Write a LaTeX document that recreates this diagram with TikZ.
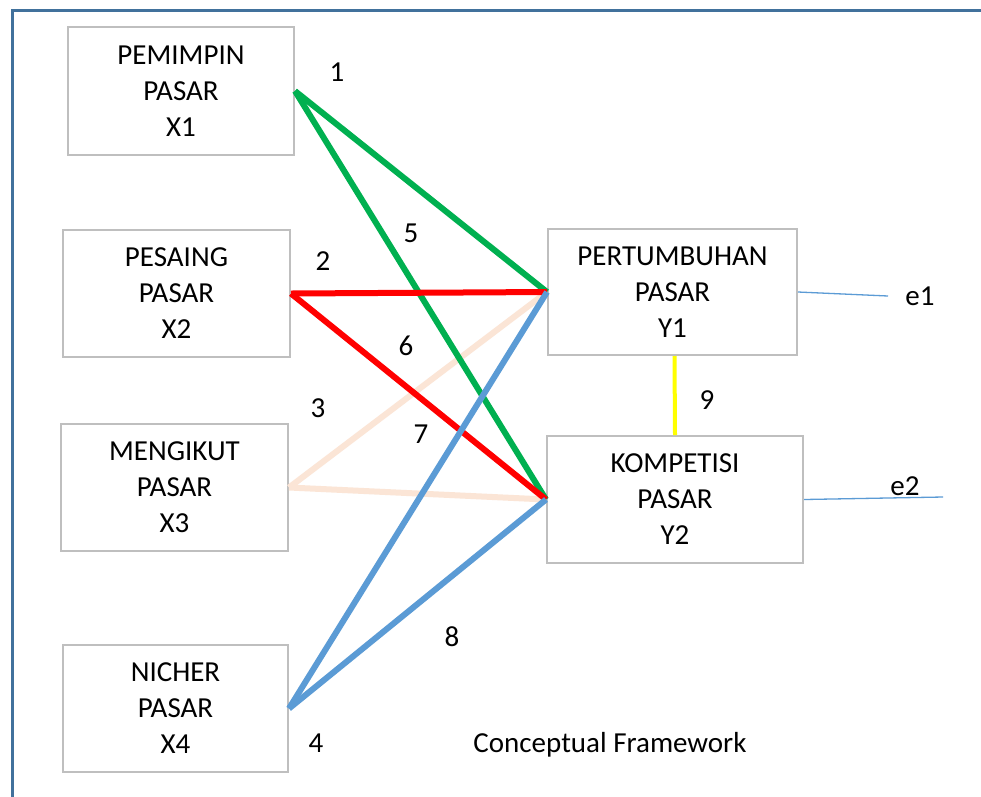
\documentclass[tikz,border=0pt]{standalone}
\usepackage{fontspec}
\setmainfont{Carlito}
\definecolor{frameblue}{HTML}{41719C}
\definecolor{boxgray}{HTML}{BFBFBF}
\definecolor{lgreen}{HTML}{00B050}
\definecolor{lred}{HTML}{FF0000}
\definecolor{lpeach}{HTML}{FBE5D6}
\definecolor{lblue}{HTML}{5B9BD5}
\definecolor{lyellow}{HTML}{FFFF00}
\begin{document}
\begin{tikzpicture}[x=1pt,y=-1pt,
  varbox/.style={draw=boxgray,line width=2pt,rectangle,inner sep=0pt,align=center,
    font=\fontsize{29}{36}\selectfont},
  numlab/.style={inner sep=0pt,font=\fontsize{29}{32}\selectfont},
  link/.style={line width=6pt},
  errline/.style={draw=lblue,line width=1.3pt}]
\useasboundingbox (0,0) rectangle (981,796);
\fill[white] (0,0) rectangle (981,796);
\draw[frameblue,line width=3pt] (12,800) -- (12,10) -- (985,10);
% boxes
\node[varbox,minimum width=226pt,minimum height=128pt] (x1) at (181,91) {PEMIMPIN\\PASAR\\X1};
\node[varbox,minimum width=227pt,minimum height=127pt] (x2) at (176.5,293.5) {PESAING\\PASAR\\X2};
\node[varbox,minimum width=227pt,minimum height=127pt] (x3) at (174.5,487.5) {MENGIKUT\\PASAR\\X3};
\node[varbox,minimum width=225pt,minimum height=127pt] (x4) at (175.5,708.5) {NICHER\\PASAR\\X4};
\node[varbox,minimum width=249pt,minimum height=126pt] (y1) at (672.5,292) {PERTUMBUHAN\\PASAR\\Y1};
\node[varbox,minimum width=256pt,minimum height=127pt] (y2) at (675,499.5) {KOMPETISI\\PASAR\\Y2};
% connectors
\draw[link,lpeach] (x3.east) -- (y1.west);
\draw[link,lpeach] (x3.east) -- (y2.west);
\draw[link,lgreen] (x1.east) -- (y1.west);
\draw[link,lgreen] (x1.east) -- (y2.west);
\draw[link,lred] (x2.east) -- (y1.west);
\draw[link,lred] (x2.east) -- (y2.west);
\draw[link,lblue] (x4.east) -- (y1.west);
\draw[link,lblue] (x4.east) -- (y2.west);
\draw[lyellow,line width=4pt] ([xshift=2pt]y1.south) -- (y2.north);
% error terms
\coordinate (e1end) at (888,296);
\coordinate (e2end) at (943,497);
\draw[errline] (y1.east) -- (e1end);
\draw[errline] (y2.east) -- (e2end);
\node[numlab] (e1) at (920,296) {e1};
\node[numlab] (e2) at (905,486) {e2};
% labels
\node[numlab] (n1) at (337,72) {1};
\node[numlab] (n2) at (323,261) {2};
\node[numlab] (n3) at (318,408) {3};
\node[numlab] (n4) at (316,743) {4};
\node[numlab] (n5) at (411,233) {5};
\node[numlab] (n6) at (406,346) {6};
\node[numlab] (n7) at (421,434) {7};
\node[numlab] (n8) at (452,637) {8};
\node[numlab] (n9) at (707,400) {9};
\node[numlab] (title) at (610,745) {Conceptual Framework};
\end{tikzpicture}
\end{document}
